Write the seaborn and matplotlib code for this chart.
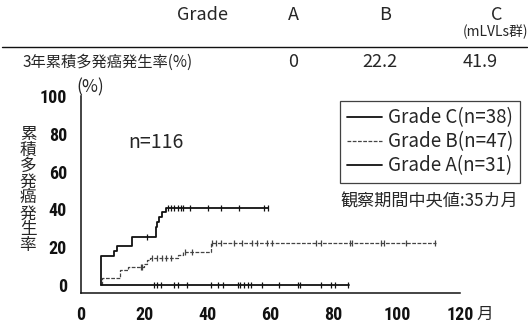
import pandas as pd
import numpy as np
import matplotlib
matplotlib.use("Agg")
import matplotlib.pyplot as plt
import seaborn as sns
from matplotlib.lines import Line2D
from matplotlib import font_manager

# --- data ---
grades = ["Grade C", "Grade B", "Grade A"]
grade_n = [38, 47, 31]

c_time = [6.3, 6.31, 10.3, 11.3, 16.0, 23.8, 24.2, 24.8, 25.5, 26.8, 59.3]
c_rate = [0.0, 15.4, 18.0, 20.5, 25.6, 30.8, 33.3, 35.9, 38.5, 41.0, 41.0]
c_cens = [21.0, 27.4, 28.5, 29.5, 30.6, 31.6, 32.4, 34.5, 40.1, 44.3, 49.9, 58.1, 59.1]

b_time = [6.5, 6.6, 12.3, 15.0, 19.8, 20.8, 21.8, 30.8, 32.3, 41.2, 112.4]
b_rate = [0.0, 3.6, 8.0, 9.6, 11.3, 13.0, 14.5, 15.8, 17.5, 22.2, 22.2]
b_cens = [18.9, 19.4, 22.5, 24.0, 25.5, 27.0, 28.5, 33.0, 35.0, 41.6, 42.8, 44.2,
          48.4, 51.0, 54.3, 55.8, 59.0, 60.6, 74.5, 76.1, 85.1, 85.9, 95.1, 95.9,
          103.0, 112.0]

a_time = [6.3, 85.0]
a_rate = [0.0, 0.0]
a_cens = [23.2, 24.2, 25.3, 29.5, 30.6, 33.6, 41.2, 43.5, 44.9, 49.6, 50.2, 51.7,
          52.8, 53.9, 57.3, 62.6, 68.7, 69.4, 76.1, 79.3, 80.3, 84.5]

table_cols = ["A", "B", "C"]
table_vals = ["0", "22.2", "41.9"]

x_ticks = [0, 20, 40, 60, 80, 100, 120]
y_ticks = [0, 20, 40, 60, 80, 100]


def level_at(times, rates, t):
    idx = np.searchsorted(times, t, side="right") - 1
    return rates[max(idx, 0)]


curves = pd.concat([
    pd.DataFrame({"time": c_time, "rate": c_rate, "grade": "Grade C"}),
    pd.DataFrame({"time": b_time, "rate": b_rate, "grade": "Grade B"}),
    pd.DataFrame({"time": a_time, "rate": a_rate, "grade": "Grade A"}),
], ignore_index=True)

cens = pd.concat([
    pd.DataFrame({"time": c_cens, "rate": [level_at(c_time, c_rate, t) for t in c_cens], "grade": "Grade C"}),
    pd.DataFrame({"time": b_cens, "rate": [level_at(b_time, b_rate, t) for t in b_cens], "grade": "Grade B"}),
    pd.DataFrame({"time": a_cens, "rate": [level_at(a_time, a_rate, t) for t in a_cens], "grade": "Grade A"}),
], ignore_index=True)

styles = {
    "Grade C": dict(color="#111111", lw=1.3, ls="-"),
    "Grade B": dict(color="#444444", lw=0.9, ls=(0, (3, 1.2))),
    "Grade A": dict(color="#111111", lw=1.3, ls="-"),
}

# narrow font for the tick numbers, if one is around
fonts = font_manager.fontManager.ttflist
names = {f.name for f in fonts}
tick_font, tick_stretch, tick_size = "DejaVu Sans", "normal", 11
for cand in ["Liberation Sans Narrow", "DejaVu Sans Condensed", "Roboto Condensed",
             "Open Sans Condensed", "Noto Sans Condensed"]:
    if cand in names:
        tick_font, tick_size = cand, 13
        break
else:
    narrow = [f.name for f in fonts if str(f.stretch) in ("condensed", "semi-condensed", "75", "87.5")]
    if narrow:
        tick_font, tick_stretch, tick_size = narrow[0], "condensed", 13

sns.set_style("white")
plt.rcParams["font.family"] = ["Noto Sans CJK JP", "DejaVu Sans"]

fig = plt.figure(figsize=(5.28, 3.29), dpi=100)
ax = fig.add_axes([81 / 528, 1 - 293 / 329, (460 - 81) / 528, (293 - 96) / 329])

for g in grades:
    st = styles[g]
    sns.lineplot(data=curves[curves["grade"] == g], x="time", y="rate", ax=ax,
                 estimator=None, sort=False, drawstyle="steps-post",
                 color=st["color"], linewidth=st["lw"], linestyle=st["ls"])
    sns.scatterplot(data=cens[cens["grade"] == g], x="time", y="rate", ax=ax,
                    marker="|", s=22, color=st["color"], linewidth=0.9)

ax.set_xlim(0, 120)
ax.set_ylim(-4.2, 100)
ax.set_xticks(x_ticks)
ax.set_yticks(y_ticks)
ax.set_xlabel("")
ax.set_ylabel("")
for side in ["top", "right"]:
    ax.spines[side].set_visible(False)
for side in ["left", "bottom"]:
    ax.spines[side].set_color("#111111")
    ax.spines[side].set_linewidth(1.1)
ax.tick_params(axis="y", direction="out", length=7, width=1.1, color="#111111", pad=3)
ax.tick_params(axis="x", direction="out", length=6, width=1.1, color="#111111", pad=3)
for lab in ax.get_xticklabels() + ax.get_yticklabels():
    lab.set_family([tick_font])
    lab.set_fontstretch(tick_stretch)
    lab.set_fontweight("bold")
    lab.set_fontsize(tick_size)
    lab.set_color("#111111")

# axis annotations
fig.text(90 / 528, 1 - 87 / 329, "(%)", ha="center", va="center", fontsize=12.5)
fig.text(485 / 528, 1 - 314 / 329, "月", ha="center", va="center", fontsize=12)
fig.text(28 / 528, 1 - 190 / 329, "\n".join("累積多発癌発生率"), ha="center", va="center",
         fontsize=12, linespacing=0.92)
fig.text(128 / 528, 1 - 142 / 329, "n=116", ha="left", va="center", fontsize=14)
fig.text(518 / 528, 1 - 202 / 329, "観察期間中央値:35カ月", ha="right", va="center", fontsize=12.3)

# legend
handles = [Line2D([0], [0], color=styles[g]["color"], lw=styles[g]["lw"], ls=styles[g]["ls"])
           for g in grades]
labels = [f"{g}(n={n})" for g, n in zip(grades, grade_n)]
leg = fig.legend(handles, labels, loc="upper right", bbox_to_anchor=(520 / 528, 1 - 101 / 329),
                 bbox_transform=fig.transFigure, frameon=True, fancybox=False,
                 edgecolor="#111111", fontsize=13.5, handlelength=1.9, handletextpad=0.3,
                 labelspacing=0.15, borderpad=0.35, borderaxespad=0)
leg.get_frame().set_linewidth(0.9)

# table on top
fig.text(203 / 528, 1 - 15 / 329, "Grade", ha="center", va="center", fontsize=13)
col_x = [293, 385, 497]
for x, name in zip(col_x, table_cols):
    fig.text(x / 528, 1 - 15 / 329, name, ha="center", va="center", fontsize=13)
fig.text(496 / 528, 1 - 32 / 329, "(mLVLs群)", ha="center", va="center", fontsize=10)
fig.add_artist(Line2D([2 / 528, 527 / 528], [1 - 47 / 329, 1 - 47 / 329], color="#111111", lw=1.0))
fig.text(23 / 528, 1 - 62 / 329, "3年累積多発癌発生率(%)", ha="left", va="center", fontsize=11)
val_x = [293, 380, 480]
for x, v in zip(val_x, table_vals):
    fig.text(x / 528, 1 - 62 / 329, v, ha="center", va="center", fontsize=13)

fig.savefig("out.png", dpi=100)
